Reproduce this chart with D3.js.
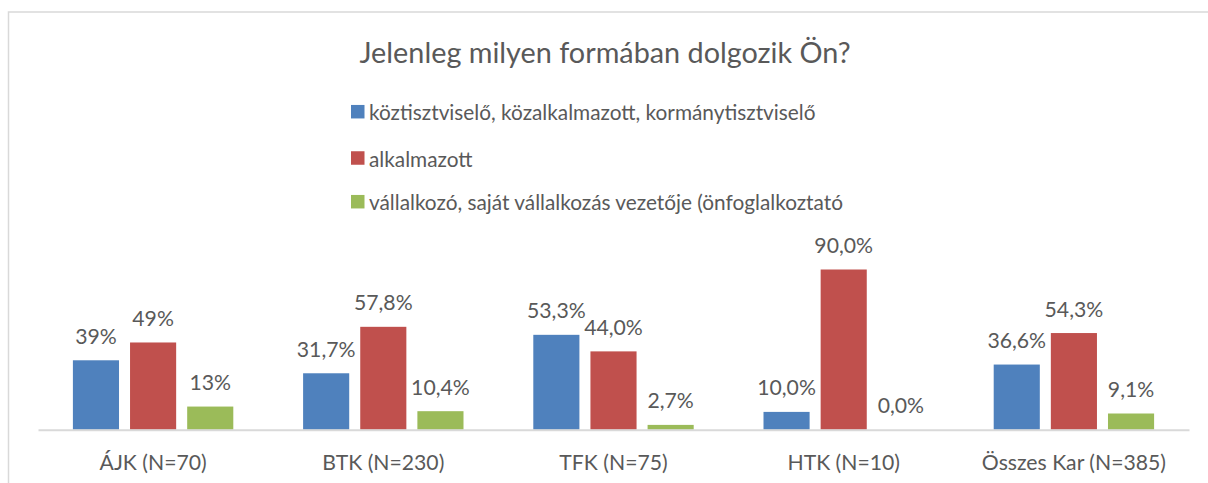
<!DOCTYPE html>
<html><head><meta charset="utf-8">
<script src="https://cdn.jsdelivr.net/npm/d3@7"></script>
<style>html,body{margin:0;padding:0;background:#fff;}svg{display:block;}</style>
</head><body>
<svg id="c" width="1208" height="483"></svg>
<script>
const title = "Jelenleg milyen formában dolgozik Ön?";
const categories = ["ÁJK (N=70)", "BTK (N=230)", "TFK (N=75)", "HTK (N=10)", "Összes Kar (N=385)"];
const seriesNames = ["köztisztviselő, közalkalmazott, kormánytisztviselő", "alkalmazott", "vállalkozó, saját vállalkozás vezetője (önfoglalkoztató"];
const seriesColors = ["#4F81BD", "#C0504D", "#9BBB59"];
const valuesKozt = [39, 31.7, 53.3, 10.0, 36.6];
const valuesAlk = [49, 57.8, 44.0, 90.0, 54.3];
const valuesVall = [13, 10.4, 2.7, 0.0, 9.1];
const labelsKozt = ["39%", "31,7%", "53,3%", "10,0%", "36,6%"];
const labelsAlk = ["49%", "57,8%", "44,0%", "90,0%", "54,3%"];
const labelsVall = ["13%", "10,4%", "2,7%", "0,0%", "9,1%"];
const seriesValues = [valuesKozt, valuesAlk, valuesVall];
const seriesLabels = [labelsKozt, labelsAlk, labelsVall];

const FONT = "Lato, 'Open Sans', sans-serif";
const TXT = "#595959";
const svg = d3.select("#c");

// frame
svg.append("rect").attr("x", 8.5).attr("y", 12).attr("width", 1220).attr("height", 500)
  .attr("fill", "none").attr("stroke", "#D9D9D9").attr("stroke-width", 1.5);

// title
svg.append("text").attr("x", 605).attr("y", 52).attr("text-anchor", "middle")
  .attr("dominant-baseline", "central").attr("font-family", FONT).attr("font-size", 28.8)
  .attr("fill", TXT).text(title);

// legend
const legendY = [111.7, 158, 201.7];
seriesNames.forEach((n, i) => {
  svg.append("rect").attr("x", 351).attr("y", legendY[i] - 6.75).attr("width", 13.5).attr("height", 13.5)
    .attr("fill", seriesColors[i]);
  svg.append("text").attr("x", 369).attr("y", legendY[i]).attr("dominant-baseline", "central")
    .attr("font-family", FONT).attr("font-size", 20.8).attr("fill", TXT).text(n);
});

const x0 = d3.scaleBand().domain(categories).range([38, 1189]);
const groupPad = (x0.bandwidth() - 160.4) / 2;
const x1 = d3.scaleBand().domain([0, 1, 2]).range([groupPad, groupPad + 160.4]).paddingInner(0.193);
const y = d3.scaleLinear().domain([0, 100]).range([429.7, 251.7]);

const g = svg.append("g");
categories.forEach((c, ci) => {
  seriesValues.forEach((vals, si) => {
    const v = vals[ci];
    const bx = x0(c) + x1(si);
    g.append("rect").attr("x", bx).attr("y", y(v)).attr("width", x1.bandwidth())
      .attr("height", y(0) - y(v)).attr("fill", seriesColors[si]);
    g.append("text").attr("x", bx + x1.bandwidth() / 2).attr("y", y(v) - 24.5)
      .attr("text-anchor", "middle").attr("dominant-baseline", "central")
      .attr("font-family", FONT).attr("font-size", 21.2).attr("fill", TXT)
      .text(seriesLabels[si][ci]);
  });
});

// baseline axis
const xAxis = d3.axisBottom(x0).tickSize(0).tickPadding(0);
const ax = svg.append("g").attr("transform", `translate(0,${y(0)})`).call(xAxis);
ax.select(".domain").attr("stroke", "#D9D9D9").attr("stroke-width", 2);
ax.selectAll(".tick text").attr("y", 32).attr("dy", null).attr("dominant-baseline", "central")
  .attr("font-family", FONT).attr("font-size", 21.2).attr("fill", TXT);
</script>
</body></html>
